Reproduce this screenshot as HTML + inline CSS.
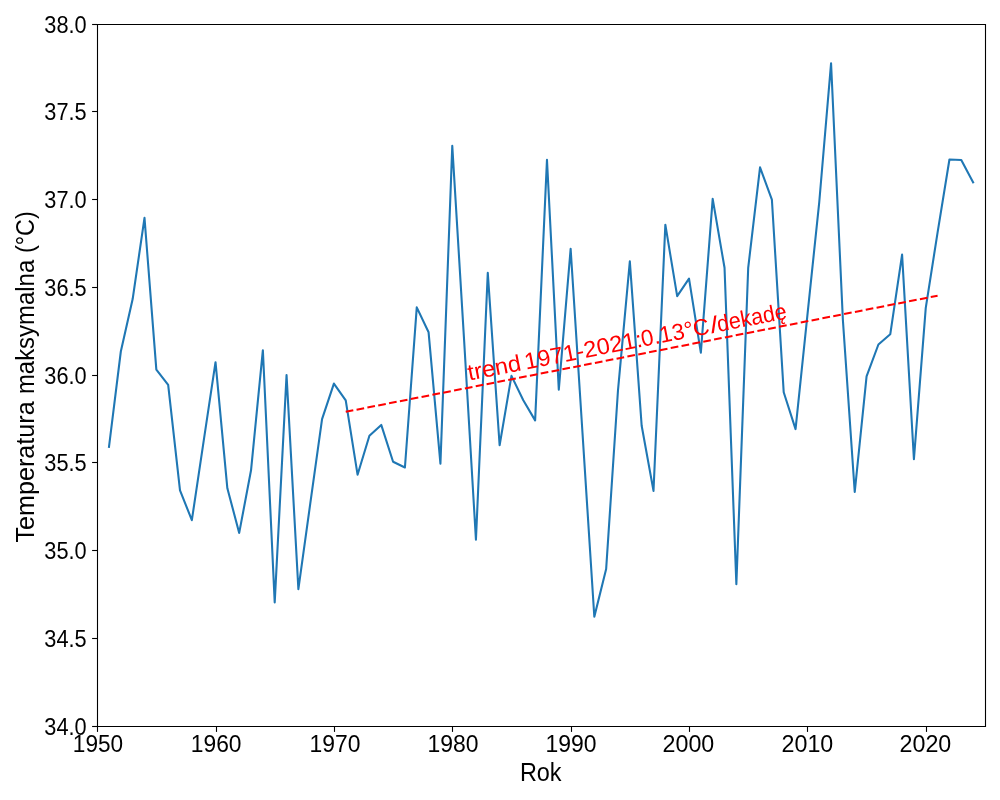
<!DOCTYPE html>
<html lang="pl">
<head>
<meta charset="utf-8">
<title>Temperatura maksymalna</title>
<style>
html,body{margin:0;padding:0;background:#fff;}
body{width:1000px;height:800px;overflow:hidden;}
svg{display:block;}
text{font-family:"Liberation Sans",sans-serif;fill:#000;}
.tick{font-size:23px;}
.lab{font-size:26px;}
</style>
</head>
<body>
<svg width="1000" height="800" viewBox="0 0 1000 800">
<rect x="0" y="0" width="1000" height="800" fill="#ffffff"/>
<polyline points="108.99,446.80 120.82,351.50 132.66,299.05 144.50,217.90 156.34,369.60 168.17,384.80 180.01,490.30 191.85,520.20 203.69,440.80 215.52,362.20 227.36,488.30 239.20,532.90 251.03,470.30 262.87,350.20 274.71,602.40 286.55,375.10 298.38,589.20 310.22,503.90 322.06,419.05 333.90,383.60 345.73,400.30 357.57,474.70 369.41,435.80 381.25,424.90 393.08,461.70 404.92,467.50 416.76,307.40 428.59,332.30 440.43,463.70 452.27,145.90 464.11,340.30 475.94,539.70 487.78,272.90 499.62,445.20 511.46,375.90 523.29,400.30 535.13,420.40 546.97,159.90 558.80,389.70 570.64,248.90 582.48,432.80 594.32,616.70 606.15,569.05 617.99,390.30 629.83,261.40 641.67,425.80 653.50,490.90 665.34,224.70 677.18,296.20 689.01,278.70 700.85,352.70 712.69,198.90 724.53,267.80 736.36,584.20 748.20,267.80 760.04,167.40 771.88,199.55 783.71,392.30 795.55,429.10 807.39,315.30 819.23,202.30 831.06,63.30 842.90,320.30 854.74,492.00 866.57,376.40 878.41,344.50 890.25,334.30 902.09,254.60 913.92,459.20 925.76,307.90 937.60,232.30 949.44,159.50 961.27,160.00 973.11,182.40" fill="none" stroke="#1f77b4" stroke-width="2.08" stroke-linejoin="round" stroke-linecap="square"/>
<line x1="345.73" y1="411.8" x2="937.60" y2="295.7" stroke="#ff0000" stroke-width="2.08" stroke-dasharray="7.71 3.33"/>
<g stroke="#000" stroke-width="1.1" fill="none">
<line x1="97.5" y1="24.0" x2="97.5" y2="727.0"/><line x1="985.5" y1="24.0" x2="985.5" y2="727.0"/><line x1="97.0" y1="24.5" x2="986.0" y2="24.5"/><line x1="97.0" y1="726.5" x2="986.0" y2="726.5"/>
<line x1="97.5" y1="726.5" x2="97.5" y2="731.9"/><line x1="216.5" y1="726.5" x2="216.5" y2="731.9"/><line x1="334.5" y1="726.5" x2="334.5" y2="731.9"/><line x1="452.5" y1="726.5" x2="452.5" y2="731.9"/><line x1="571.5" y1="726.5" x2="571.5" y2="731.9"/><line x1="689.5" y1="726.5" x2="689.5" y2="731.9"/><line x1="807.5" y1="726.5" x2="807.5" y2="731.9"/><line x1="926.5" y1="726.5" x2="926.5" y2="731.9"/><line x1="97.5" y1="726.5" x2="92.1" y2="726.5"/><line x1="97.5" y1="638.5" x2="92.1" y2="638.5"/><line x1="97.5" y1="550.5" x2="92.1" y2="550.5"/><line x1="97.5" y1="462.5" x2="92.1" y2="462.5"/><line x1="97.5" y1="375.5" x2="92.1" y2="375.5"/><line x1="97.5" y1="287.5" x2="92.1" y2="287.5"/><line x1="97.5" y1="199.5" x2="92.1" y2="199.5"/><line x1="97.5" y1="111.5" x2="92.1" y2="111.5"/><line x1="97.5" y1="24.5" x2="92.1" y2="24.5"/></g>
<text class="tick" x="98.0" y="751.6" text-anchor="middle" textLength="50.3" lengthAdjust="spacingAndGlyphs">1950</text><text class="tick" x="216.2" y="751.6" text-anchor="middle" textLength="50.7" lengthAdjust="spacingAndGlyphs">1960</text><text class="tick" x="335.0" y="751.6" text-anchor="middle" textLength="50.9" lengthAdjust="spacingAndGlyphs">1970</text><text class="tick" x="453.1" y="751.6" text-anchor="middle" textLength="51.0" lengthAdjust="spacingAndGlyphs">1980</text><text class="tick" x="570.9" y="751.6" text-anchor="middle" textLength="51.0" lengthAdjust="spacingAndGlyphs">1990</text><text class="tick" x="688.4" y="751.6" text-anchor="middle" textLength="51.7" lengthAdjust="spacingAndGlyphs">2000</text><text class="tick" x="807.4" y="751.6" text-anchor="middle" textLength="51.7" lengthAdjust="spacingAndGlyphs">2010</text><text class="tick" x="925.4" y="751.6" text-anchor="middle" textLength="51.7" lengthAdjust="spacingAndGlyphs">2020</text>
<text class="tick" x="86.6" y="734.6" text-anchor="end" textLength="42.3" lengthAdjust="spacingAndGlyphs">34.0</text><text class="tick" x="86.6" y="646.6" text-anchor="end" textLength="42.3" lengthAdjust="spacingAndGlyphs">34.5</text><text class="tick" x="86.6" y="558.6" text-anchor="end" textLength="42.3" lengthAdjust="spacingAndGlyphs">35.0</text><text class="tick" x="86.6" y="470.6" text-anchor="end" textLength="42.3" lengthAdjust="spacingAndGlyphs">35.5</text><text class="tick" x="86.6" y="383.6" text-anchor="end" textLength="42.3" lengthAdjust="spacingAndGlyphs">36.0</text><text class="tick" x="86.6" y="295.6" text-anchor="end" textLength="42.3" lengthAdjust="spacingAndGlyphs">36.5</text><text class="tick" x="86.6" y="207.6" text-anchor="end" textLength="42.3" lengthAdjust="spacingAndGlyphs">37.0</text><text class="tick" x="86.6" y="119.6" text-anchor="end" textLength="42.3" lengthAdjust="spacingAndGlyphs">37.5</text><text class="tick" x="86.6" y="32.6" text-anchor="end" textLength="42.3" lengthAdjust="spacingAndGlyphs">38.0</text>
<text x="519.9" y="780.8" style="font-size:25px" textLength="41.7" lengthAdjust="spacingAndGlyphs">Rok</text>
<text class="lab" transform="translate(34,542.6) rotate(-90)" x="0" y="0"><tspan x="0" textLength="141.3" lengthAdjust="spacingAndGlyphs">Temperatura</tspan> <tspan x="148.5" textLength="134.3" lengthAdjust="spacingAndGlyphs">maksymalna</tspan> <tspan x="289.5" textLength="41.8" lengthAdjust="spacingAndGlyphs">(°C)</tspan></text>
<g transform="translate(468.5,380.7) rotate(-11.05)" style="font-size:23px;fill:#ff0000">
<text style="fill:#ff0000" x="0" y="0"><tspan x="0.8" textLength="53.8" lengthAdjust="spacingAndGlyphs">trend</tspan> <tspan x="58.6" textLength="119.6" lengthAdjust="spacingAndGlyphs">1971-2021:</tspan> <tspan x="177.4" textLength="69.3" lengthAdjust="spacingAndGlyphs">0.13°C</tspan><tspan x="247.6" textLength="8.3" lengthAdjust="spacingAndGlyphs">/</tspan><tspan x="254.7" textLength="70.5" lengthAdjust="spacingAndGlyphs">dekadę</tspan></text>
</g>
</svg>
</body>
</html>
